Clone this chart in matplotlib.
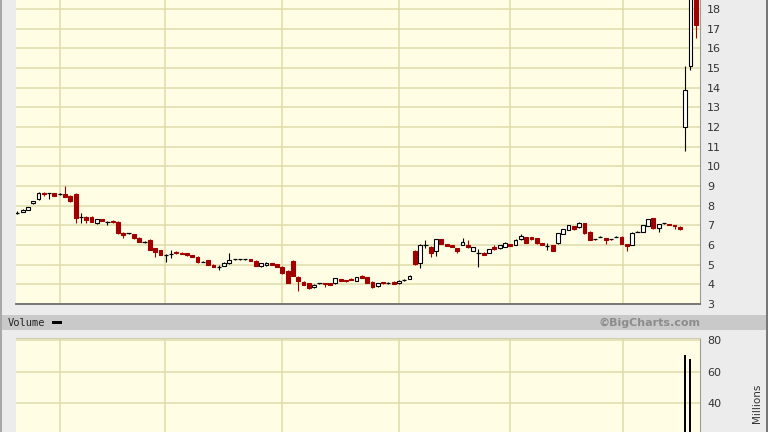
import numpy as np
import matplotlib
matplotlib.use("Agg")
import matplotlib.pyplot as plt
from matplotlib.patches import Rectangle

# daily prices (one entry per trading day)
opens = [7.65, 7.68, 7.80, 8.12, 8.32, 8.63, 8.62, 8.63, 8.58, 8.60,
         8.49, 8.60, 7.44, 7.44, 7.44, 7.14, 7.30, 7.19, 7.24, 7.19,
         6.63, 6.60, 6.56, 6.37, 6.17, 6.26, 5.83, 5.75, 5.49, 5.54,
         5.66, 5.61, 5.58, 5.49, 5.37, 5.16, 5.24, 4.99, 4.87, 4.93,
         5.07, 5.27, 5.27, 5.27, 5.27, 5.21, 4.93, 4.97, 5.07, 5.02,
         4.90, 4.70, 5.21, 4.39, 4.14, 4.05, 3.85, 4.05, 4.05, 4.05,
         4.05, 4.26, 4.22, 4.29, 4.19, 4.44, 4.36, 4.14, 3.92, 4.12,
         4.09, 4.14, 4.05, 4.22, 4.27, 5.71, 5.07, 6.00, 5.92, 5.71,
         6.29, 6.05, 6.00, 5.83, 6.00, 6.00, 5.71, 5.58, 5.61, 5.61,
         5.92, 5.83, 5.92, 6.05, 6.00, 6.29, 6.39, 6.39, 6.34, 6.09,
         5.95, 6.00, 6.09, 6.56, 6.76, 6.97, 6.90, 7.10, 6.68, 6.29,
         6.43, 6.34, 6.29, 6.43, 6.43, 6.05, 6.00, 6.68, 6.68, 6.97,
         7.36, 6.85, 7.10, 7.07, 7.02, 6.93, 12.0, 15.1, 18.9]
highs = [7.71, 7.82, 7.95, 8.24, 8.68, 8.71, 8.66, 8.66, 8.64, 9.00,
         8.52, 8.62, 7.61, 7.46, 7.46, 7.33, 7.32, 7.22, 7.26, 7.21,
         6.65, 6.63, 6.58, 6.40, 6.22, 6.28, 5.85, 5.77, 5.52, 5.75,
         5.68, 5.63, 5.60, 5.51, 5.44, 5.19, 5.26, 5.01, 4.99, 5.12,
         5.61, 5.30, 5.30, 5.29, 5.29, 5.23, 5.09, 5.12, 5.09, 5.04,
         4.92, 4.72, 5.23, 4.41, 4.16, 4.07, 4.00, 4.08, 4.07, 4.07,
         4.33, 4.28, 4.24, 4.31, 4.38, 4.46, 4.38, 4.16, 4.07, 4.14,
         4.12, 4.16, 4.21, 4.25, 4.46, 5.75, 6.05, 6.26, 5.94, 6.31,
         6.31, 6.07, 6.02, 5.85, 6.34, 6.26, 5.90, 5.78, 5.63, 5.80,
         6.00, 6.02, 6.14, 6.07, 6.28, 6.55, 6.41, 6.41, 6.36, 6.11,
         6.09, 6.02, 6.62, 6.82, 7.04, 6.99, 7.16, 7.12, 6.70, 6.32,
         6.46, 6.36, 6.32, 6.46, 6.45, 6.07, 6.65, 6.71, 7.04, 7.33,
         7.38, 7.09, 7.13, 7.09, 7.04, 6.95, 15.1, 19.2, 19.3]
lows = [7.59, 7.66, 7.78, 8.10, 8.30, 8.49, 8.33, 8.47, 8.52, 8.44,
        8.18, 7.12, 7.10, 7.10, 7.17, 7.05, 7.20, 7.02, 7.13, 6.58,
        6.34, 6.55, 6.32, 6.15, 6.12, 5.73, 5.41, 5.47, 5.15, 5.32,
        5.56, 5.52, 5.46, 5.39, 5.10, 5.13, 4.97, 4.88, 4.73, 4.91,
        5.05, 5.24, 5.24, 5.25, 5.19, 4.91, 4.88, 4.95, 4.98, 4.88,
        4.54, 4.07, 4.41, 3.68, 3.95, 3.78, 3.83, 4.02, 3.88, 3.95,
        4.03, 4.17, 4.14, 4.20, 4.17, 4.32, 4.07, 3.83, 3.85, 4.03,
        4.02, 4.00, 4.03, 4.19, 4.25, 5.00, 4.82, 5.83, 5.38, 5.44,
        6.03, 5.93, 5.90, 5.61, 5.98, 5.86, 5.69, 4.90, 5.47, 5.59,
        5.76, 5.81, 5.90, 5.93, 5.98, 6.27, 6.10, 6.27, 6.07, 6.00,
        5.75, 5.69, 6.07, 6.54, 6.74, 6.78, 6.88, 6.58, 6.24, 6.26,
        6.40, 6.05, 6.26, 6.40, 6.03, 5.71, 5.98, 6.65, 6.66, 6.95,
        6.83, 6.68, 7.07, 7.00, 6.80, 6.78, 10.8, 14.9, 16.5]
closes = [7.65, 7.80, 7.93, 8.22, 8.63, 8.57, 8.62, 8.50, 8.58, 8.46,
          8.22, 7.36, 7.44, 7.28, 7.19, 7.31, 7.22, 7.19, 7.15, 6.60,
          6.51, 6.60, 6.34, 6.17, 6.17, 5.75, 5.66, 5.49, 5.49, 5.54,
          5.58, 5.54, 5.48, 5.41, 5.12, 5.16, 4.99, 4.90, 4.87, 5.10,
          5.24, 5.27, 5.27, 5.27, 5.21, 4.93, 5.07, 5.10, 5.00, 4.90,
          4.56, 4.09, 4.43, 4.19, 3.97, 3.80, 3.97, 4.05, 4.02, 3.97,
          4.31, 4.19, 4.16, 4.22, 4.36, 4.34, 4.09, 3.85, 4.05, 4.05,
          4.09, 4.02, 4.19, 4.22, 4.44, 5.04, 6.00, 6.00, 5.58, 6.29,
          6.05, 5.95, 5.92, 5.71, 6.17, 5.88, 5.88, 5.58, 5.49, 5.78,
          5.78, 6.00, 6.12, 5.95, 6.26, 6.46, 6.12, 6.29, 6.09, 6.02,
          5.95, 5.71, 6.60, 6.80, 7.02, 6.80, 7.14, 6.60, 6.26, 6.29,
          6.43, 6.26, 6.29, 6.43, 6.05, 5.95, 6.63, 6.68, 7.02, 7.31,
          6.85, 7.07, 7.10, 7.02, 6.97, 6.80, 13.9, 18.9, 17.2]
# volume in millions
volume = [0.9, 1.1, 1.3, 1.6, 2.2, 1.4, 1.0, 0.8, 0.7, 1.9,
          1.2, 4.1, 1.8, 1.1, 0.9, 1.0, 0.7, 0.6, 0.8, 2.6,
          1.5, 0.9, 1.2, 1.0, 0.8, 2.3, 1.6, 1.1, 1.3, 1.0,
          0.7, 0.6, 0.8, 0.7, 1.4, 0.9, 1.0, 0.8, 1.2, 0.9,
          1.5, 0.7, 0.6, 0.5, 0.6, 1.1, 0.8, 0.7, 0.6, 0.7,
          1.3, 2.4, 3.0, 2.1, 1.3, 1.4, 0.9, 0.7, 0.8, 0.6,
          1.2, 0.7, 0.6, 0.7, 0.9, 0.8, 1.0, 1.2, 0.8, 0.6,
          0.5, 0.7, 0.8, 0.6, 1.1, 6.5, 5.2, 2.4, 1.9, 2.2,
          1.5, 1.0, 0.8, 1.0, 1.1, 0.9, 0.8, 1.6, 0.9, 0.8,
          1.0, 0.9, 1.0, 0.8, 1.2, 1.4, 1.1, 0.9, 1.0, 0.8,
          0.9, 1.1, 1.8, 1.5, 1.4, 1.0, 1.2, 1.6, 1.3, 0.8,
          0.7, 0.8, 0.6, 0.7, 1.0, 1.1, 1.7, 0.9, 1.3, 1.5,
          1.4, 1.0, 0.8, 0.7, 0.8, 0.9, 70.8, 67.9, 18.0]
# month separators (trading-day positions)
month_lines = [8.05, 27.85, 49.9, 72.0, 93.0, 114.2]
price_ticks = list(range(3, 19))
vol_ticks = [20, 40, 60, 80]

bg = "#ececec"
plot_bg = "#fffee4"
grid_c = "#dedbaa"
red = "#a00000"
txt = "#333333"

W, H = 768, 432
fig = plt.figure(figsize=(7.68, 4.32), dpi=100, facecolor=bg)

left, right = 15.5 / W, 700 / W
ax = fig.add_axes([left, 1 - 304 / H, right - left, 304 / H])
axv = fig.add_axes([left, 0, right - left, 94 / H])

x = np.arange(len(opens))
o, h, l, c = map(np.array, (opens, highs, lows, closes))
up = c > o
down = c < o
flat = c == o

for a in (ax, axv):
    a.set_facecolor(plot_bg)
    a.set_xlim(-0.34, 128.8)
    a.set_xticks([])
    for m in month_lines:
        a.axvline(m, color=grid_c, lw=1.1, zorder=0)
    a.yaxis.tick_right()
    a.tick_params(axis="y", length=0, pad=5, labelsize=8, labelcolor=txt)
    a.spines["left"].set_visible(False)
    a.spines["right"].set_color("#9a9a9a")

# price panel
ax.set_ylim(3, 18 + 9 / 19.67)
ax.set_yticks(price_ticks)
for p in price_ticks:
    ax.axhline(p, color=grid_c, lw=1.1, zorder=0)
ax.spines["top"].set_visible(False)
ax.spines["bottom"].set_color("#6e6e6e")
ax.spines["bottom"].set_linewidth(1.3)

wick_col = np.where(down, red, "black")
ax.vlines(x, l, h, colors=wick_col, lw=0.8, zorder=2)
ax.bar(x[up], (c - o)[up], bottom=o[up], width=0.72, facecolor="white",
       edgecolor="black", lw=0.8, zorder=3)
ax.bar(x[down], (o - c)[down], bottom=c[down], width=0.72, facecolor=red,
       edgecolor=red, lw=0.8, zorder=3)
ax.hlines(o[flat], x[flat] - 0.4, x[flat] + 0.4, colors="black", lw=0.9, zorder=3)

# volume panel
axv.set_ylim(21.8, 81.3)
axv.set_yticks(vol_ticks[1:])
for v in vol_ticks:
    axv.axhline(v, color=grid_c, lw=1.1, zorder=0)
axv.spines["top"].set_color("#d0cfb8")
axv.spines["bottom"].set_visible(False)
axv.bar(x, volume, width=0.38, color="black", zorder=3)
fig.text(757 / W, 1 - 403 / H, "Millions", rotation=90, ha="center", va="center",
         fontsize=7.5, color=txt)

# volume header band
fig.add_artist(Rectangle((2 / W, 1 - 330 / H), 764 / W, 15 / H, transform=fig.transFigure,
                         facecolor="#c9c9c9", edgecolor="none"))
fig.text(8 / W, 1 - 322.5 / H, "Volume", ha="left", va="center", fontsize=7.5,
         color="#222222", family="DejaVu Sans Mono")
fig.add_artist(Rectangle((52 / W, 1 - 324 / H), 10 / W, 3 / H, transform=fig.transFigure,
                         facecolor="black", edgecolor="none"))
fig.text(700 / W, 1 - 322.5 / H, "\u00a9BigCharts.com", ha="right", va="center",
         fontsize=8, fontweight="bold", color="#8c8c8c")

# frame edges
fig.add_artist(Rectangle((0, 0), 1.5 / W, 1, transform=fig.transFigure,
                         facecolor="#a8a8a8", edgecolor="none"))
fig.add_artist(Rectangle((766 / W, 0), 2 / W, 1, transform=fig.transFigure,
                         facecolor="#777777", edgecolor="none"))

fig.savefig("out.png", dpi=100, facecolor=bg)
